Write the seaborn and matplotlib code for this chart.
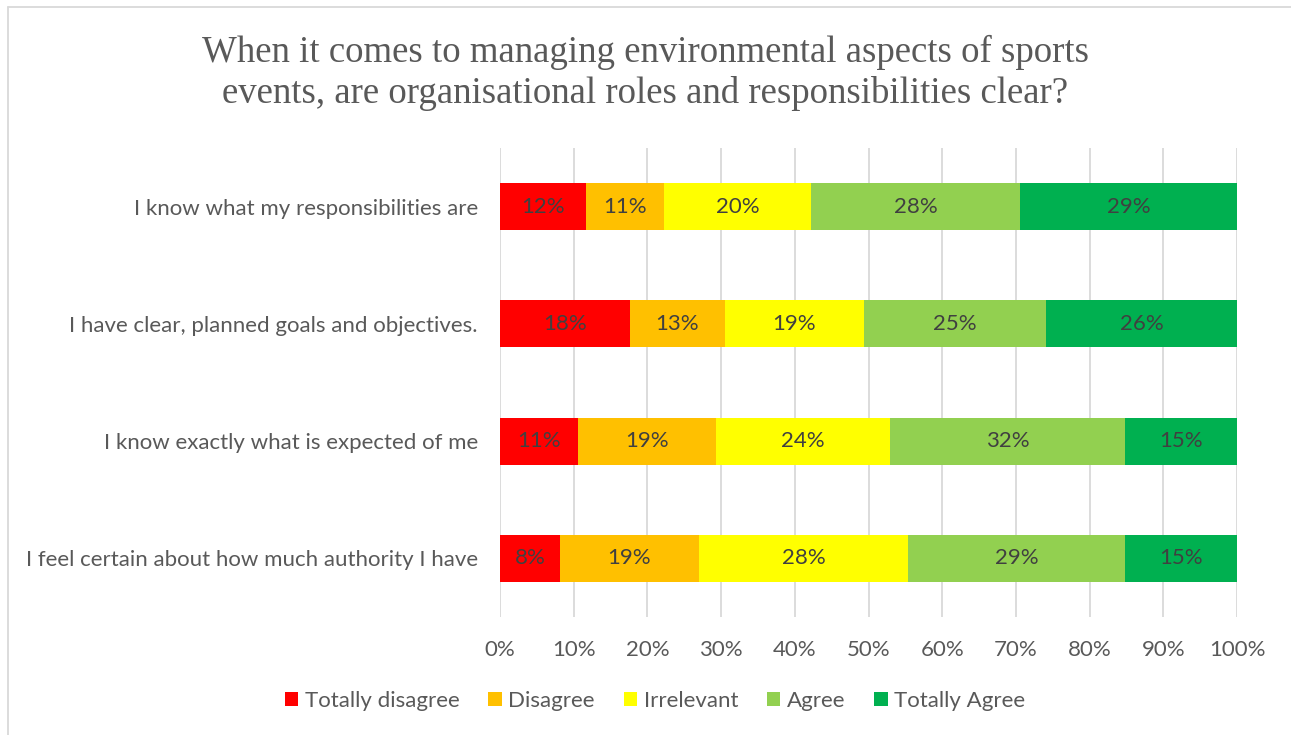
import matplotlib
matplotlib.use("Agg")
import matplotlib.pyplot as plt
from matplotlib.patches import Patch
from matplotlib.lines import Line2D
import numpy as np
import pandas as pd
import seaborn as sns

statements = [
    "I know what my responsibilities are",
    "I have clear, planned goals and objectives.",
    "I know exactly what is expected of me",
    "I feel certain about how much authority I have",
]
levels = ["Totally disagree", "Disagree", "Irrelevant", "Agree", "Totally Agree"]
totally_disagree = [11.7, 17.6, 10.6, 8.1]
disagree = [10.6, 12.9, 18.7, 18.9]
irrelevant = [19.9, 18.9, 23.6, 28.4]
agree = [28.4, 24.7, 31.9, 29.4]
totally_agree = [29.4, 25.9, 15.2, 15.2]
colors = ["#FF0000", "#FFC000", "#FFFF00", "#92D050", "#00B050"]
title = ("When it comes to managing environmental aspects of sports\n"
         "events, are organisational roles and responsibilities clear?")

sns.set_theme(style="white")
plt.rcParams["font.family"] = ["Lato", "DejaVu Sans"]

shares = pd.DataFrame(
    dict(zip(levels, [totally_disagree, disagree, irrelevant, agree, totally_agree])),
    index=statements,
)
ends = shares.cumsum(axis=1)
starts = ends - shares

fig = plt.figure(figsize=(12.91, 7.35), dpi=100)
ax = fig.add_axes([500 / 1291, 1 - 617 / 735, 737 / 1291, 469 / 735])

# stacked bars: draw cumulative totals from the widest down so each layer shows its own segment
for level, color in reversed(list(zip(levels, colors))):
    frame = pd.DataFrame({"statement": statements, "end": ends[level].values})
    sns.barplot(data=frame, x="end", y="statement", order=statements, color=color,
                width=0.4, saturation=1, ax=ax, zorder=3, linewidth=0)

for level in levels:
    for i, st in enumerate(statements):
        val = shares.loc[st, level]
        mid = starts.loc[st, level] + val / 2
        ax.text(mid, i, f"{val:.0f}%", ha="center", va="center",
                fontsize=16, color="#404040", zorder=4)

ax.set_xlim(0, 100)
ax.set_ylim(3.5, -0.5)
ax.set_xticks(np.arange(0, 101, 10))
ax.set_xticklabels([f"{t}%" for t in range(0, 101, 10)])
ax.set_xlabel("")
ax.set_ylabel("")
ax.tick_params(axis="x", labelsize=16, colors="#595959", pad=16.5, length=0)
ax.tick_params(axis="y", labelsize=16, colors="#595959", pad=16, length=0)
ax.grid(axis="x", color="#D9D9D9", linewidth=1.3, zorder=0)
ax.grid(axis="y", visible=False)
for side in ax.spines.values():
    side.set_visible(False)

fig.text(0.5, 1 - 73 / 735, title, ha="center", va="center", fontsize=26.5,
         color="#595959", family="Liberation Serif", linespacing=1.22)

handles = [Patch(facecolor=c, edgecolor="none", label=l) for l, c in zip(levels, colors)]
fig.legend(handles=handles, loc="center", bbox_to_anchor=(655 / 1291, 1 - 701 / 735),
           ncol=5, frameon=False, fontsize=16, handlelength=0.6, handleheight=0.6,
           handletextpad=0.3, columnspacing=1.3, labelcolor="#595959")

# chart-area frame: top and left edges
frame_x = 8 / 1291
frame_y = 1 - 7 / 735
fig.add_artist(Line2D([frame_x, 1.0], [frame_y, frame_y], transform=fig.transFigure,
                      color="#D9D9D9", linewidth=1.3))
fig.add_artist(Line2D([frame_x, frame_x], [0.0, frame_y], transform=fig.transFigure,
                      color="#D9D9D9", linewidth=1.3))

fig.savefig("out.png", dpi=100, facecolor="white")
